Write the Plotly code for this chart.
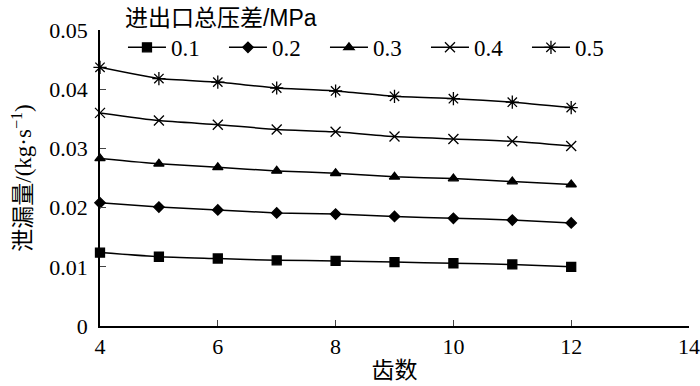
import plotly.graph_objects as go

teeth = [4, 5, 6, 7, 8, 9, 10, 11, 12]
series_names = ["0.1", "0.2", "0.3", "0.4", "0.5"]
leak_01 = [0.0124, 0.0117, 0.0114, 0.0111, 0.0110, 0.0108, 0.0106, 0.0104, 0.0100]
leak_02 = [0.0208, 0.0201, 0.0196, 0.0191, 0.0189, 0.0185, 0.0182, 0.0179, 0.0174]
leak_03 = [0.0283, 0.0274, 0.0268, 0.0262, 0.0258, 0.0252, 0.0249, 0.0244, 0.0239]
leak_04 = [0.0360, 0.0347, 0.0340, 0.0332, 0.0328, 0.0320, 0.0316, 0.0312, 0.0304]
leak_05 = [0.0437, 0.0418, 0.0412, 0.0402, 0.0397, 0.0388, 0.0384, 0.0378, 0.0369]
x_ticks = [4, 6, 8, 10, 12, 14]
y_ticks = [0, 0.01, 0.02, 0.03, 0.04, 0.05]
y_tick_text = ["0", "0.01", "0.02", "0.03", "0.04", "0.05"]

all_series = [leak_01, leak_02, leak_03, leak_04, leak_05]
symbols = ["square", "diamond", "triangle-up", "x-thin-open", "asterisk-open"]
sizes = [9, 8, 9, 10, 11]

SERIF = "Liberation Serif"
CJK = '<span style="font-family:Noto Sans CJK SC">{}</span>'
fig = go.Figure()
for name, vals, sym, sz in zip(series_names, all_series, symbols, sizes):
    fig.add_trace(go.Scatter(
        x=teeth, y=vals, name=name, mode="lines+markers",
        line=dict(color="black", width=1.5, shape="spline", smoothing=0.5),
        marker=dict(symbol=sym, size=sz, color="black",
                    line=dict(color="black", width=1.3)),
        cliponaxis=False,
    ))

fig.update_layout(
    width=700, height=386,
    margin=dict(l=100, r=11, t=30, b=60, autoexpand=False),
    plot_bgcolor="white", paper_bgcolor="white",
    font=dict(family=SERIF, size=22, color="black"),
    showlegend=True,
    legend=dict(
        orientation="h", xref="paper", yref="paper",
        x=0.039, y=1.115, xanchor="left", yanchor="top",
        bgcolor="rgba(0,0,0,0)",
        font=dict(family=SERIF, size=23, color="black"),
        title=dict(text=CJK.format("进出口总压差") + "/MPa", side="top",
                   font=dict(family="Liberation Sans", size=23, color="black")),
        itemwidth=38, entrywidth=48, tracegroupgap=0,
    ),
    xaxis=dict(
        range=[4, 14], tickvals=x_ticks, ticks="inside", ticklen=6, tickwidth=1.3,
        showline=True, linecolor="black", linewidth=1.5, showgrid=False, zeroline=False,
        tickfont=dict(family=SERIF, size=22), automargin=False,
        title=dict(text=CJK.format("齿数"), font=dict(family=SERIF, size=23), standoff=4),
    ),
    yaxis=dict(
        range=[0, 0.05], tickvals=y_ticks, ticktext=y_tick_text,
        ticks="inside", ticklen=6, tickwidth=1.3, automargin=False,
        showline=True, linecolor="black", linewidth=1.5, showgrid=False, zeroline=False,
        tickfont=dict(family=SERIF, size=22), ticklabelstandoff=6,
        title=dict(text=CJK.format("泄漏量") + "/(kg·s<sup>−1</sup>)",
                   font=dict(family=SERIF, size=23), standoff=11),
    ),
)

fig.write_html("out.html", config={"displayModeBar": False},
               post_script="document.body.style.margin='0';")
